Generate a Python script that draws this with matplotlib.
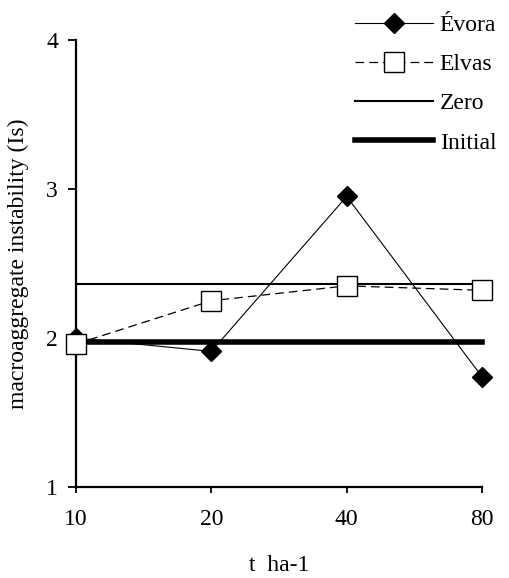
import numpy as np
import matplotlib
matplotlib.use('Agg')
from matplotlib import pyplot as plt

# dados
doses = ['10', '20', '40', '80']
evora = [2.00, 1.91, 2.95, 1.74]
elvas = [1.96, 2.25, 2.35, 2.32]
zero = 2.36
initial = 1.97

plt.rcParams['font.family'] = 'serif'
plt.rcParams['font.serif'] = ['Liberation Serif']
plt.rcParams['font.size'] = 17

fig = plt.figure(figsize=(5.1, 5.78), dpi=100)
ax = fig.add_axes([76/510, 1-487/578, (482-76)/510, (487-40)/578])

x = np.arange(len(doses))

#linhas horizontais de referencia
ax.plot([0, 3.06], [zero, zero], color='black', lw=1.5, clip_on=False, label='Zero', zorder=2)
ax.plot([0, 3.0], [initial, initial], color='black', lw=4, clip_on=False, label='Initial', zorder=2)

ax.plot(x, evora, color='black', lw=0.8, marker='D', ms=10, mfc='black', mec='black',
        clip_on=False, label='Évora', zorder=3)
ax.plot(x, elvas, color='black', lw=0.9, ls=(0, (7, 4)), marker='s', ms=14, mfc='white', mec='black',
        mew=1.0, clip_on=False, label='Elvas', zorder=4)

ax.set_xlim(0, 3)
ax.set_ylim(1, 4)
ax.set_xticks(x)
ax.set_xticklabels(doses)
ax.set_yticks([1, 2, 3, 4])
ax.spines['top'].set_visible(False)
ax.spines['right'].set_visible(False)
ax.spines['left'].set_linewidth(1.6)
ax.spines['bottom'].set_linewidth(1.6)
ax.tick_params(axis='y', direction='out', length=6, width=1.3, pad=7)
ax.tick_params(axis='x', direction='out', length=4, width=1.3, pad=12)

ax.set_ylabel('macroaggregate instability (Is)', labelpad=12)
ax.set_xlabel('t  ha-1', labelpad=18)

h, l = ax.get_legend_handles_labels()
order = [2, 3, 0, 1]
fig.legend([h[i] for i in order], [l[i] for i in order], loc='upper right',
           bbox_to_anchor=(1.015, 1.012), frameon=False, handlelength=3.3,
           labelspacing=0.75, numpoints=1, handletextpad=0.3, fontsize=17)

fig.savefig('out.png', dpi=100)
